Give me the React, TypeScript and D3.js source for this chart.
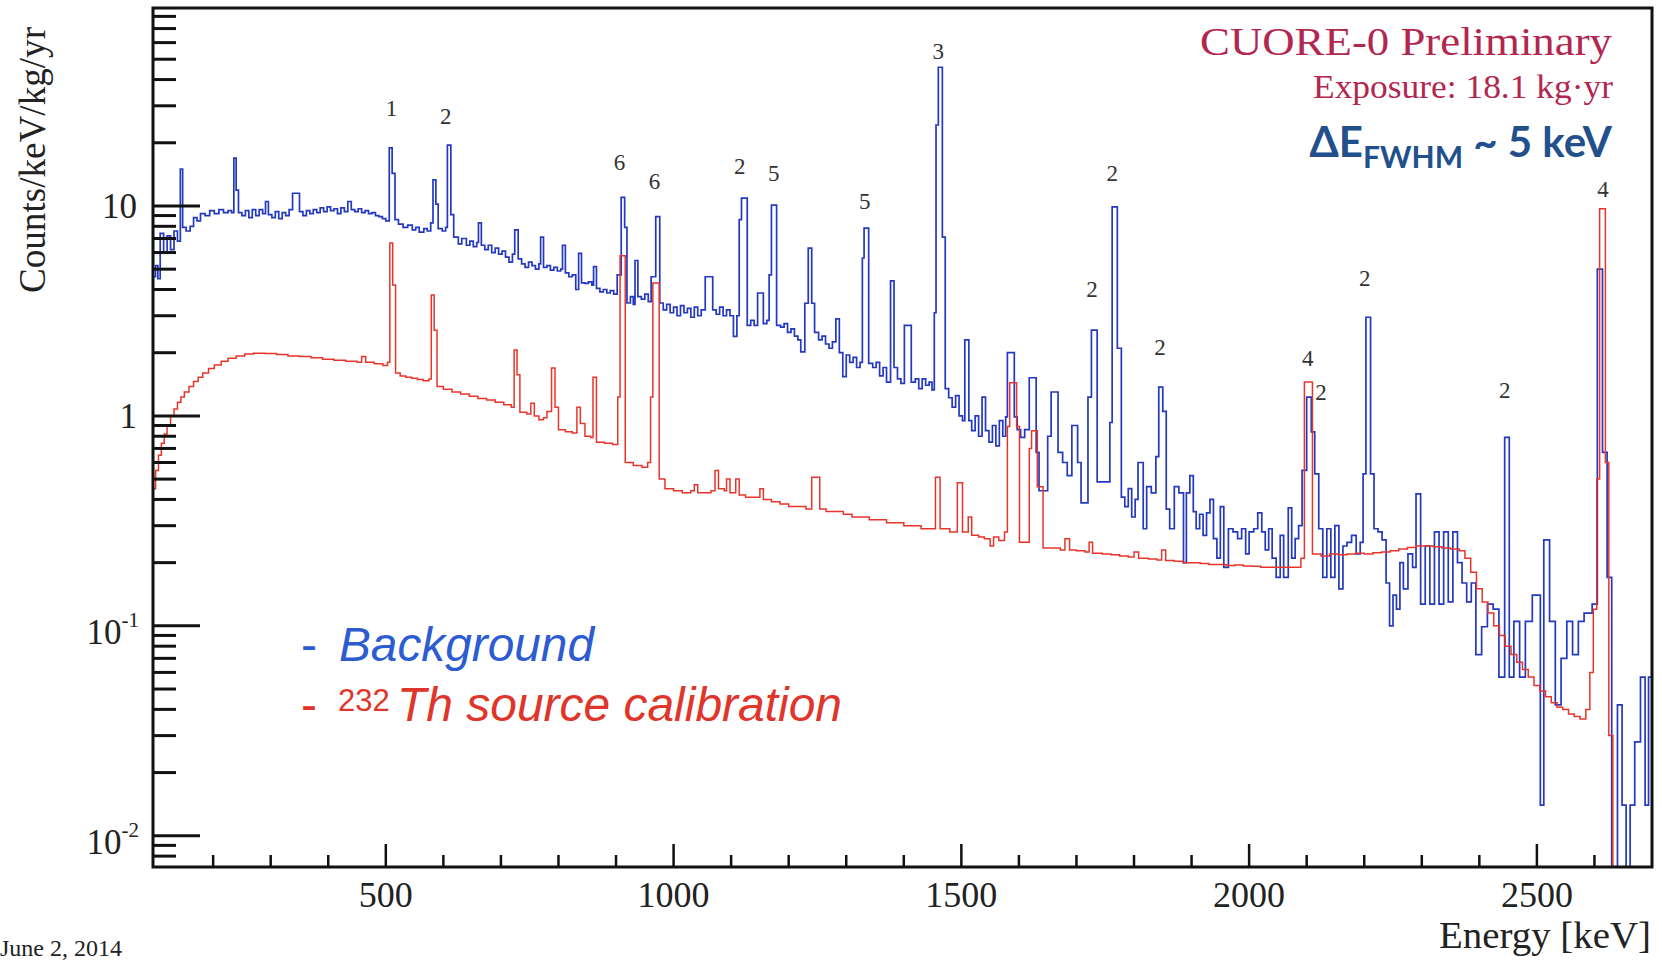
import React, { useEffect } from "react";
import * as d3 from "d3";

// ---------------- data ----------------
const energyDomain: [number, number] = [95.5, 2700];
const countDomain: [number, number] = [0.0071, 87.7];

const xMajorTicks = [500, 1000, 1500, 2000, 2500];
const xMinorTicks = [200, 300, 400, 600, 700, 800, 900, 1100, 1200, 1300, 1400, 1600, 1700, 1800, 1900, 2100, 2200, 2300, 2400, 2600];
const yMajorTicks = [0.01, 0.1, 1, 10];
const yTickBase = ["10", "10", "1", "10"];
const yTickExp = ["-2", "-1", "", ""];
const yMinorTicks = [0.008, 0.009, 0.02, 0.03, 0.04, 0.05, 0.06, 0.07, 0.08, 0.09, 0.2, 0.3, 0.4, 0.5, 0.6, 0.7, 0.8, 0.9, 2, 3, 4, 5, 6, 7, 8, 9, 20, 30, 40, 50, 60, 70, 80];

// background spectrum: [bin low edge keV, counts/keV/kg/yr]
const backgroundBins: [number, number][] = [
  [95, 4.6], [100, 5.2], [104, 4.5], [108, 7.4], [114, 6.0], [120, 7.2], [126, 6.2], [132, 7.6], [138, 6.8], [143, 15.0],
  [147, 7.9], [153, 7.6], [160, 8.0], [166, 8.8], [172, 8.5], [178, 9.2], [186, 9.0], [194, 9.5], [202, 9.2], [210, 9.6],
  [218, 9.3], [226, 9.5], [232, 9.3], [236, 16.9], [240, 11.9], [244, 9.3], [250, 9.0], [256, 9.5], [262, 8.8], [268, 9.6],
  [274, 9.0], [280, 9.6], [286, 9.2], [291, 10.5], [296, 9.1], [302, 8.8], [308, 9.4], [314, 8.7], [320, 9.3], [326, 9.0],
  [332, 9.6], [338, 11.5], [350, 9.4], [356, 9.0], [362, 9.5], [368, 9.2], [374, 9.6], [380, 9.3], [386, 9.8], [392, 9.4],
  [398, 9.9], [404, 9.5], [410, 9.7], [416, 9.2], [422, 9.8], [428, 9.4], [434, 10.5], [440, 9.6], [446, 9.4], [452, 9.7],
  [458, 9.3], [464, 9.5], [470, 9.2], [476, 9.3], [482, 9.0], [488, 8.9], [494, 8.7], [500, 8.5], [506, 18.9], [511, 14.3],
  [516, 8.6], [522, 8.2], [530, 7.9], [538, 8.1], [546, 7.7], [552, 7.9], [558, 7.5], [566, 7.8], [572, 7.6], [578, 8.3],
  [582, 13.3], [587, 10.2], [591, 7.8], [598, 7.6], [604, 7.9], [607, 19.5], [613, 9.1], [618, 7.1], [626, 6.6], [632, 7.0],
  [640, 6.5], [646, 6.8], [652, 6.4], [658, 6.7], [661, 8.3], [666, 6.5], [672, 6.2], [678, 6.5], [684, 6.0], [690, 6.3],
  [696, 5.9], [702, 6.1], [708, 5.7], [714, 5.4], [720, 5.9], [724, 7.7], [730, 5.6], [736, 5.3], [742, 5.1], [748, 5.4],
  [754, 5.2], [760, 5.0], [766, 5.3], [769, 7.1], [774, 5.1], [780, 5.2], [786, 4.95], [792, 5.1], [798, 4.9], [804, 5.0],
  [807, 6.5], [812, 4.8], [818, 4.6], [824, 4.7], [830, 4.0], [835, 5.95], [840, 4.3], [846, 4.28], [852, 4.35], [858, 4.2],
  [861, 5.14], [866, 4.05], [872, 3.9], [878, 4.0], [884, 3.85], [890, 3.95], [896, 3.8], [902, 4.7], [909, 11.0], [915, 7.9],
  [919, 3.45], [925, 3.7], [930, 3.4], [933, 5.5], [938, 3.7], [944, 3.6], [950, 3.8], [956, 3.5], [961, 4.6], [969, 8.9],
  [976, 3.45], [982, 3.2], [988, 3.4], [994, 3.1], [1000, 3.3], [1006, 3.0], [1012, 3.35], [1018, 3.1], [1024, 3.25], [1030, 2.95],
  [1036, 3.3], [1042, 3.0], [1048, 3.2], [1055, 4.6], [1068, 3.2], [1074, 3.05], [1080, 3.3], [1086, 3.0], [1092, 3.2], [1098, 3.0],
  [1104, 2.39], [1110, 3.0], [1114, 8.6], [1118, 10.9], [1128, 2.7], [1134, 2.85], [1140, 2.7], [1146, 3.85], [1156, 2.75], [1162, 2.85],
  [1166, 4.7], [1170, 10.1], [1179, 2.7], [1186, 2.65], [1192, 2.75], [1198, 2.5], [1204, 2.6], [1210, 2.4], [1216, 2.3], [1221, 2.02],
  [1228, 3.44], [1234, 6.3], [1240, 3.44], [1245, 2.5], [1252, 2.3], [1258, 2.4], [1264, 2.2], [1270, 2.1], [1276, 2.25], [1282, 2.9],
  [1288, 2.0], [1294, 1.54], [1300, 1.95], [1306, 1.8], [1312, 1.9], [1318, 1.7], [1324, 1.8], [1328, 5.65], [1331, 7.85], [1339, 1.78],
  [1346, 1.7], [1352, 1.8], [1358, 1.55], [1364, 1.7], [1370, 1.45], [1377, 4.4], [1383, 1.7], [1389, 1.5], [1395, 1.43], [1401, 2.7],
  [1413, 1.45], [1420, 1.5], [1426, 1.35], [1432, 1.5], [1438, 1.4], [1444, 1.45], [1449, 1.33], [1453, 3.1], [1456, 24.3], [1460, 45.8],
  [1467, 7.1], [1472, 1.35], [1478, 1.22], [1484, 1.1], [1490, 1.25], [1496, 1.0], [1502, 0.95], [1506, 2.3], [1513, 0.95], [1518, 0.85],
  [1524, 1.0], [1530, 0.8], [1536, 1.23], [1542, 0.85], [1548, 0.75], [1554, 0.9], [1560, 0.72], [1566, 0.95], [1572, 0.8], [1577, 0.99],
  [1580, 2.0], [1592, 0.99], [1597, 0.86], [1603, 0.79], [1610, 0.86], [1618, 1.52], [1630, 0.67], [1635, 0.44], [1650, 0.8], [1656, 1.3],
  [1668, 0.67], [1676, 0.6], [1684, 0.52], [1692, 0.9], [1702, 0.6], [1708, 0.385], [1720, 1.23], [1726, 2.56], [1736, 0.485], [1758, 0.93],
  [1762, 9.9], [1771, 2.1], [1778, 0.41], [1784, 0.37], [1790, 0.45], [1796, 0.33], [1802, 0.4], [1807, 0.6], [1816, 0.29], [1822, 0.46],
  [1830, 0.43], [1838, 0.64], [1843, 1.37], [1850, 1.05], [1856, 0.36], [1862, 0.29], [1870, 0.46], [1878, 0.43], [1886, 0.2], [1891, 0.43],
  [1897, 0.52], [1903, 0.35], [1908, 0.29], [1914, 0.34], [1920, 0.27], [1926, 0.345], [1932, 0.4], [1938, 0.26], [1944, 0.21], [1950, 0.37],
  [1956, 0.19], [1964, 0.29], [1972, 0.28], [1980, 0.26], [1987, 0.29], [1994, 0.22], [2000, 0.28], [2008, 0.29], [2015, 0.345], [2022, 0.28],
  [2028, 0.23], [2034, 0.29], [2040, 0.21], [2047, 0.17], [2054, 0.27], [2060, 0.17], [2068, 0.365], [2074, 0.21], [2080, 0.26], [2086, 0.3],
  [2092, 0.55], [2100, 1.23], [2108, 0.84], [2114, 0.53], [2121, 0.29], [2128, 0.17], [2135, 0.29], [2142, 0.17], [2149, 0.3], [2156, 0.15],
  [2163, 0.24], [2170, 0.25], [2178, 0.27], [2186, 0.22], [2193, 0.25], [2198, 0.53], [2203, 2.95], [2211, 0.53], [2217, 0.29], [2224, 0.28],
  [2231, 0.257], [2238, 0.16], [2244, 0.1], [2250, 0.14], [2256, 0.12], [2262, 0.2], [2268, 0.15], [2276, 0.22], [2284, 0.19], [2290, 0.425],
  [2298, 0.127], [2306, 0.24], [2314, 0.127], [2322, 0.28], [2330, 0.127], [2338, 0.28], [2346, 0.13], [2354, 0.28], [2362, 0.2], [2370, 0.16],
  [2378, 0.13], [2386, 0.16], [2394, 0.073], [2404, 0.099], [2414, 0.127], [2424, 0.12], [2434, 0.057], [2444, 0.79], [2452, 0.057], [2460, 0.105],
  [2470, 0.057], [2480, 0.105], [2492, 0.14], [2506, 0.014], [2512, 0.257], [2522, 0.105], [2532, 0.042], [2542, 0.07], [2552, 0.105], [2562, 0.073],
  [2572, 0.105], [2582, 0.115], [2596, 0.127], [2605, 5.0], [2614, 0.67], [2622, 0.17], [2630, 0], [2640, 0.042], [2648, 0.014], [2655, 0],
  [2662, 0.014], [2670, 0.028], [2680, 0.057], [2688, 0.014], [2694, 0.057],
];

// 232Th calibration spectrum: [bin low edge keV, counts/keV/kg/yr]
const calibrationBins: [number, number][] = [
  [95, 0.45], [100, 0.55], [105, 0.65], [110, 0.74], [115, 0.82], [120, 0.9], [126, 1.0], [132, 1.08], [138, 1.16], [144, 1.23],
  [150, 1.3], [158, 1.38], [166, 1.46], [174, 1.53], [182, 1.6], [192, 1.68], [202, 1.75], [214, 1.82], [226, 1.88], [240, 1.93],
  [255, 1.97], [270, 1.99], [290, 1.98], [310, 1.96], [330, 1.93], [350, 1.92], [370, 1.89], [390, 1.86], [410, 1.84], [430, 1.82],
  [450, 1.8], [458, 1.92], [465, 1.8], [480, 1.77], [495, 1.74], [503, 1.8], [507, 6.67], [512, 4.2], [517, 1.6], [525, 1.55],
  [535, 1.53], [545, 1.51], [555, 1.49], [565, 1.47], [575, 1.5], [579, 3.77], [584, 2.56], [589, 1.38], [600, 1.34], [615, 1.3],
  [630, 1.27], [645, 1.24], [660, 1.21], [675, 1.19], [690, 1.16], [705, 1.13], [718, 1.1], [723, 2.06], [728, 1.57], [733, 1.04],
  [745, 1.02], [752, 1.15], [758, 1.0], [766, 0.96], [774, 0.98], [780, 1.05], [788, 1.69], [794, 1.1], [800, 0.86], [812, 0.84],
  [824, 0.83], [832, 1.1], [838, 0.92], [846, 0.8], [856, 0.79], [860, 1.53], [866, 0.75], [880, 0.74], [894, 0.73], [903, 1.23],
  [907, 5.8], [916, 0.6], [930, 0.58], [945, 0.57], [955, 0.6], [960, 1.23], [964, 4.3], [975, 0.5], [985, 0.45], [1000, 0.44],
  [1015, 0.43], [1030, 0.44], [1036, 0.47], [1042, 0.43], [1055, 0.43], [1065, 0.44], [1072, 0.55], [1078, 0.45], [1088, 0.44], [1092, 0.5],
  [1098, 0.43], [1108, 0.5], [1114, 0.42], [1125, 0.41], [1140, 0.41], [1150, 0.45], [1156, 0.4], [1170, 0.39], [1185, 0.38], [1200, 0.37],
  [1215, 0.37], [1230, 0.36], [1240, 0.51], [1254, 0.36], [1265, 0.35], [1280, 0.35], [1295, 0.34], [1310, 0.33], [1325, 0.33], [1340, 0.32],
  [1355, 0.32], [1370, 0.31], [1385, 0.31], [1400, 0.3], [1415, 0.3], [1430, 0.29], [1445, 0.29], [1455, 0.51], [1463, 0.29], [1480, 0.28],
  [1493, 0.48], [1502, 0.28], [1512, 0.33], [1518, 0.27], [1530, 0.265], [1540, 0.26], [1550, 0.24], [1556, 0.265], [1565, 0.255], [1575, 0.28],
  [1580, 0.89], [1584, 1.44], [1596, 0.89], [1601, 0.25], [1618, 0.7], [1622, 0.85], [1632, 0.46], [1642, 0.235], [1660, 0.235], [1672, 0.23],
  [1680, 0.26], [1688, 0.23], [1700, 0.228], [1715, 0.225], [1722, 0.25], [1728, 0.222], [1745, 0.22], [1760, 0.218], [1775, 0.215], [1790, 0.213],
  [1800, 0.225], [1808, 0.21], [1825, 0.208], [1840, 0.206], [1848, 0.23], [1855, 0.205], [1870, 0.203], [1885, 0.2], [1900, 0.2], [1915, 0.198],
  [1930, 0.196], [1945, 0.196], [1960, 0.194], [1975, 0.195], [1990, 0.193], [2005, 0.192], [2020, 0.19], [2035, 0.19], [2050, 0.19], [2065, 0.19],
  [2080, 0.19], [2090, 0.21], [2096, 1.45], [2110, 0.22], [2125, 0.215], [2140, 0.22], [2155, 0.218], [2170, 0.22], [2185, 0.222], [2200, 0.22],
  [2215, 0.223], [2230, 0.225], [2245, 0.228], [2260, 0.232], [2275, 0.236], [2290, 0.24], [2305, 0.24], [2320, 0.238], [2335, 0.235], [2350, 0.232],
  [2365, 0.228], [2375, 0.21], [2385, 0.18], [2395, 0.15], [2405, 0.13], [2415, 0.115], [2425, 0.1], [2435, 0.09], [2445, 0.08], [2455, 0.073],
  [2465, 0.067], [2475, 0.062], [2485, 0.057], [2495, 0.052], [2505, 0.049], [2515, 0.046], [2525, 0.043], [2535, 0.041], [2545, 0.04], [2555, 0.038],
  [2565, 0.037], [2575, 0.036], [2585, 0.04], [2592, 0.06], [2598, 0.12], [2604, 0.5], [2609, 9.7], [2619, 0.6], [2625, 0.03], [2632, 0],
];

// peak annotations: label, energy (keV), height (counts/keV/kg/yr) of the label baseline
const peakLabelText = ["1", "2", "6", "6", "2", "5", "5", "3", "2", "2", "2", "4", "2", "2", "2", "4"];
const peakLabelEnergy = [510, 604, 906, 967, 1115, 1174, 1332, 1460, 1727, 1762, 1845, 2102, 2125, 2201, 2444, 2615];
const peakLabelLevel = [26.8, 24.6, 14.8, 12.0, 14.2, 13.1, 9.67, 50.1, 3.69, 13.1, 1.95, 1.73, 1.19, 4.16, 1.22, 11.0];

// ---------------- layout / style ----------------
const W = 1662;
const H = 960;
const PLOT = { left: 153, right: 1652, top: 8, bottom: 867 };
const SERIF = "'Liberation Serif', 'Times New Roman', serif";
const SANS = "'Liberation Sans', Arial, sans-serif";
const CALIBRI = "Lato, 'Open Sans', 'Noto Sans', sans-serif";
const BLUE_LINE = "#2438c0";
const RED_LINE = "#e8352b";
const AXIS = "#111";

function stepPath(
  bins: [number, number][],
  x: d3.ScaleLinear<number, number>,
  y: d3.ScaleLogarithmic<number, number>,
  endEnergy: number,
  floor: number
): string {
  const pts: [number, number][] = [];
  pts.push([x(bins[0][0]), y(floor)]);
  for (let i = 0; i < bins.length; i++) {
    const e0 = bins[i][0];
    const e1 = i + 1 < bins.length ? bins[i + 1][0] : endEnergy;
    const v = bins[i][1] > 0 ? bins[i][1] : floor;
    pts.push([x(e0), y(v)]);
    pts.push([x(e1), y(v)]);
  }
  return d3.line()(pts) || "";
}

export default function App() {
  useEffect(() => {
    document.body.style.margin = "0";
    document.body.style.overflow = "hidden";
  }, []);

  const x = d3.scaleLinear().domain(energyDomain).range([PLOT.left, PLOT.right]);
  const y = d3.scaleLog().domain(countDomain).range([PLOT.bottom, PLOT.top]).clamp(true);
  const floor = countDomain[0] * 0.5;

  const bgPath = stepPath(backgroundBins, x, y, energyDomain[1], floor);
  const calPath = stepPath(calibrationBins, x, y, energyDomain[1], floor);

  return (
    <svg
      width={W}
      height={H}
      viewBox={`0 0 ${W} ${H}`}
      style={{ position: "absolute", left: 0, top: 0, background: "#fff", display: "block" }}
    >
      <rect x={0} y={0} width={W} height={H} fill="#fff" />
      <defs>
        <clipPath id="plotClip">
          <rect x={PLOT.left} y={PLOT.top} width={PLOT.right - PLOT.left} height={PLOT.bottom - PLOT.top} />
        </clipPath>
      </defs>

      {/* histograms */}
      <g clipPath="url(#plotClip)">
        <path d={bgPath} fill="none" stroke={BLUE_LINE} strokeWidth={1.7} />
        <path d={calPath} fill="none" stroke={RED_LINE} strokeWidth={1.5} />
      </g>

      {/* frame */}
      <rect
        x={PLOT.left}
        y={PLOT.top}
        width={PLOT.right - PLOT.left}
        height={PLOT.bottom - PLOT.top}
        fill="none"
        stroke={AXIS}
        strokeWidth={3}
      />

      {/* x ticks */}
      {xMajorTicks.map((t) => (
        <line key={"xM" + t} x1={x(t)} x2={x(t)} y1={PLOT.bottom} y2={PLOT.bottom - 23} stroke={AXIS} strokeWidth={2.5} />
      ))}
      {xMinorTicks.map((t) => (
        <line key={"xm" + t} x1={x(t)} x2={x(t)} y1={PLOT.bottom} y2={PLOT.bottom - 12} stroke={AXIS} strokeWidth={2.5} />
      ))}
      {xMajorTicks.map((t) => (
        <text key={"xl" + t} x={x(t)} y={907} textAnchor="middle" fontFamily={SERIF} fontSize={36} fill="#222">
          {t}
        </text>
      ))}

      {/* y ticks */}
      {yMajorTicks.map((t) => (
        <line key={"yM" + t} x1={PLOT.left} x2={PLOT.left + 47} y1={y(t)} y2={y(t)} stroke={AXIS} strokeWidth={3} />
      ))}
      {yMinorTicks.map((t) => (
        <line key={"ym" + t} x1={PLOT.left} x2={PLOT.left + 23} y1={y(t)} y2={y(t)} stroke={AXIS} strokeWidth={3} />
      ))}
      {yMajorTicks.map((t, i) => (
        <text
          key={"yl" + t}
          x={yTickExp[i] ? 139 : 137}
          y={y(t) + (yTickExp[i] ? 18 : 12)}
          textAnchor="end"
          fontFamily={SERIF}
          fontSize={35}
          fill="#222"
        >
          {yTickBase[i]}
          {yTickExp[i] ? (
            <tspan fontSize={21} dy={-17}>
              {yTickExp[i]}
            </tspan>
          ) : null}
        </text>
      ))}

      {/* axis titles */}
      <text
        x={1651}
        y={948}
        textAnchor="end"
        fontFamily={SERIF}
        fontSize={37}
        fill="#222"
        textLength={212}
        lengthAdjust="spacingAndGlyphs"
      >
        Energy [keV]
      </text>
      <text
        transform="translate(45,160) rotate(-90)"
        textAnchor="middle"
        fontFamily={SERIF}
        fontSize={38}
        fill="#222"
        textLength={266}
        lengthAdjust="spacingAndGlyphs"
      >
        Counts/keV/kg/yr
      </text>

      {/* date stamp */}
      <text x={0} y={956} fontFamily={SERIF} fontSize={24} fill="#222">
        June 2, 2014
      </text>

      {/* peak labels */}
      {peakLabelText.map((s, i) => (
        <text
          key={"pk" + i}
          x={x(peakLabelEnergy[i])}
          y={y(peakLabelLevel[i])}
          textAnchor="middle"
          fontFamily={SERIF}
          fontSize={23}
          fill="#333"
        >
          {s}
        </text>
      ))}

      {/* top-right annotations */}
      <text
        x={1612}
        y={55}
        textAnchor="end"
        fontFamily={SERIF}
        fontSize={40}
        fill="#b3264f"
        textLength={412}
        lengthAdjust="spacingAndGlyphs"
      >
        CUORE-0 Preliminary
      </text>
      <text
        x={1613}
        y={98}
        textAnchor="end"
        fontFamily={SERIF}
        fontSize={33}
        fill="#b3264f"
        textLength={300}
        lengthAdjust="spacingAndGlyphs"
      >
        Exposure: 18.1 kg·yr
      </text>
      <text x={1612} y={157} textAnchor="end" fontFamily={CALIBRI} fontWeight="bold" fontSize={42} fill="#22508c">
        ΔE
        <tspan fontSize={30} dy={11}>
          FWHM
        </tspan>
        <tspan dy={-11}> ~ 5 keV</tspan>
      </text>

      {/* legend */}
      <text x={301} y={661} fontFamily={SANS} fontSize={48} fill="#2d5bd0">
        -
      </text>
      <text
        x={339}
        y={661}
        fontFamily={SANS}
        fontStyle="italic"
        fontSize={48}
        fill="#2d5bd0"
        textLength={255}
        lengthAdjust="spacingAndGlyphs"
      >
        Background
      </text>
      <text x={301} y={721} fontFamily={SANS} fontSize={48} fill="#e0352a">
        -
      </text>
      <text x={338} y={711} fontFamily={SANS} fontSize={31} fill="#e0352a">
        232
      </text>
      <text
        x={397}
        y={721}
        fontFamily={SANS}
        fontStyle="italic"
        fontSize={48}
        fill="#e0352a"
        textLength={445}
        lengthAdjust="spacingAndGlyphs"
      >
        Th source calibration
      </text>
    </svg>
  );
}
